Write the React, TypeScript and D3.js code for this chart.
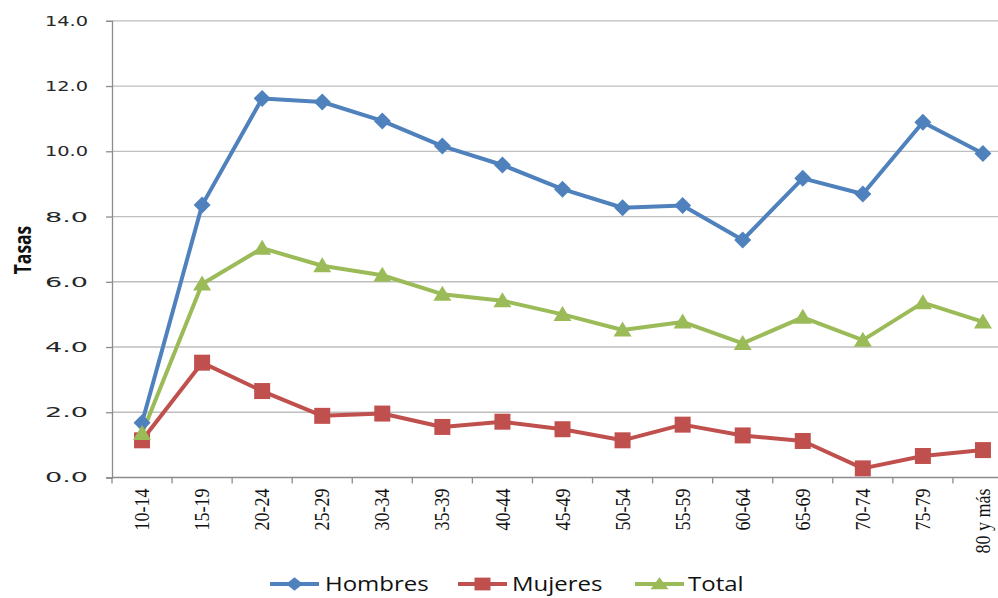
import React, { useEffect, useRef } from "react";
import * as d3 from "d3";

const categories = [
  "10-14", "15-19", "20-24", "25-29", "30-34", "35-39", "40-44", "45-49",
  "50-54", "55-59", "60-64", "65-69", "70-74", "75-79", "80 y más",
];
const hombres = [1.68, 8.35, 11.62, 11.51, 10.93, 10.16, 9.58, 8.84, 8.27, 8.34, 7.28, 9.17, 8.69, 10.89, 9.93];
const mujeres = [1.14, 3.52, 2.65, 1.89, 1.96, 1.55, 1.71, 1.48, 1.14, 1.62, 1.29, 1.12, 0.28, 0.66, 0.84];
const total = [1.35, 5.93, 7.03, 6.49, 6.2, 5.62, 5.42, 5.0, 4.52, 4.77, 4.11, 4.91, 4.21, 5.36, 4.77];
const yTicks = [0, 2, 4, 6, 8, 10, 12, 14];

const W = 998;
const H = 598;
const M = { left: 112, top: 20.8, bottom: 477.5, right: 1013 };

type Series = { name: string; values: number[]; color: string; marker: "diamond" | "square" | "triangle" };
const series: Series[] = [
  { name: "Hombres", values: hombres, color: "#4F81BD", marker: "diamond" },
  { name: "Mujeres", values: mujeres, color: "#C0504D", marker: "square" },
  { name: "Total", values: total, color: "#9BBB59", marker: "triangle" },
];

function markerPath(kind: Series["marker"]): string {
  if (kind === "diamond") return "M0,-8.5L8.5,0L0,8.5L-8.5,0Z";
  if (kind === "square") return "M-8,-8H8V8H-8Z";
  return "M0,-8.5L9,6.5H-9Z";
}

export default function App() {
  const ref = useRef<SVGSVGElement>(null);

  useEffect(() => {
    const svg = d3.select(ref.current);
    svg.selectAll("*").remove();

    const x = d3.scaleBand<string>().domain(categories).range([M.left, M.right]);
    const y = d3.scaleLinear().domain([0, 14]).range([M.bottom, M.top]);

    // horizontal gridlines
    svg.append("g")
      .selectAll("line")
      .data(yTicks.filter((t) => t > 0))
      .join("line")
      .attr("x1", M.left)
      .attr("x2", W)
      .attr("y1", (d) => y(d))
      .attr("y2", (d) => y(d))
      .attr("stroke", "#BEBEBE")
      .attr("stroke-width", 1.3);

    // y axis
    const yAxis = svg.append("g")
      .attr("transform", `translate(${M.left},0)`)
      .call(d3.axisLeft(y).tickValues(yTicks).tickFormat(d3.format(".1f")).tickSize(6).tickPadding(18));
    yAxis.select(".domain").attr("stroke", "#8C8C8C").attr("stroke-width", 1.3);
    yAxis.selectAll(".tick line").attr("stroke", "#8C8C8C").attr("stroke-width", 1.3);
    yAxis.selectAll(".tick text")
      .attr("font-family", "DejaVu Sans, Verdana, sans-serif")
      .attr("font-size", 14)
      .attr("fill", "#262626")
      .attr("textLength", 43)
      .attr("lengthAdjust", "spacingAndGlyphs");

    // x axis
    const boundaries = categories.map((c) => x(c) as number).concat([M.right]);
    const xg = svg.append("g");
    xg.append("line")
      .attr("x1", M.left)
      .attr("x2", W)
      .attr("y1", M.bottom)
      .attr("y2", M.bottom)
      .attr("stroke", "#8C8C8C")
      .attr("stroke-width", 1.3);
    xg.selectAll("line.tick")
      .data(boundaries)
      .join("line")
      .attr("class", "tick")
      .attr("x1", (d) => d)
      .attr("x2", (d) => d)
      .attr("y1", M.bottom)
      .attr("y2", M.bottom + 6)
      .attr("stroke", "#8C8C8C")
      .attr("stroke-width", 1.3);
    xg.selectAll("text")
      .data(categories)
      .join("text")
      .attr("transform", (d) => `translate(${(x(d) as number) + x.bandwidth() / 2},${M.bottom + 11}) rotate(-90) scale(1,1.2)`)
      .attr("text-anchor", "end")
      .attr("dy", "0.33em")
      .attr("font-family", "Liberation Serif, Times New Roman, serif")
      .attr("font-size", 18)
      .attr("fill", "#111")
      .text((d) => d);

    // axis title
    svg.append("text")
      .attr("transform", `translate(23,250) rotate(-90) scale(0.76,1)`)
      .attr("text-anchor", "middle")
      .attr("dy", "0.35em")
      .attr("font-family", "Open Sans, sans-serif")
      .attr("font-weight", "bold")
      .attr("font-size", 23)
      .attr("fill", "#111")
      .text("Tasas");

    const cx = (i: number) => (x(categories[i]) as number) + x.bandwidth() / 2;
    const line = d3.line<number>().x((_, i) => cx(i)).y((d) => y(d));

    const plot = svg.append("g");
    series.forEach((s) => {
      plot.append("path")
        .attr("d", line(s.values))
        .attr("fill", "none")
        .attr("stroke", s.color)
        .attr("stroke-width", 4)
        .attr("stroke-linejoin", "round");
    });
    series.forEach((s) => {
      plot.append("g")
        .selectAll("path")
        .data(s.values)
        .join("path")
        .attr("transform", (d, i) => `translate(${cx(i)},${y(d)})`)
        .attr("d", markerPath(s.marker))
        .attr("fill", s.color);
    });

    // legend
    const legendItems = [
      { s: series[0], x0: 270, tx: 325 },
      { s: series[1], x0: 458, tx: 512 },
      { s: series[2], x0: 635, tx: 688 },
    ];
    const ly = 584;
    const lg = svg.append("g");
    legendItems.forEach(({ s, x0, tx }) => {
      lg.append("line")
        .attr("x1", x0)
        .attr("x2", x0 + 49)
        .attr("y1", ly)
        .attr("y2", ly)
        .attr("stroke", s.color)
        .attr("stroke-width", 4);
      lg.append("path")
        .attr("transform", `translate(${x0 + 24.5},${ly}) scale(1,0.8)`)
        .attr("d", markerPath(s.marker))
        .attr("fill", s.color);
      lg.append("text")
        .attr("transform", `translate(${tx},${ly}) scale(1.2,1)`)
        .attr("dy", "0.36em")
        .attr("font-family", "Open Sans, sans-serif")
        .attr("font-size", 20)
        .attr("fill", "#111")
        .text(s.name);
    });
  }, []);

  return (
    <svg
      ref={ref}
      width={W}
      height={H}
      style={{ position: "absolute", left: 0, top: 0, background: "#fff" }}
    />
  );
}
